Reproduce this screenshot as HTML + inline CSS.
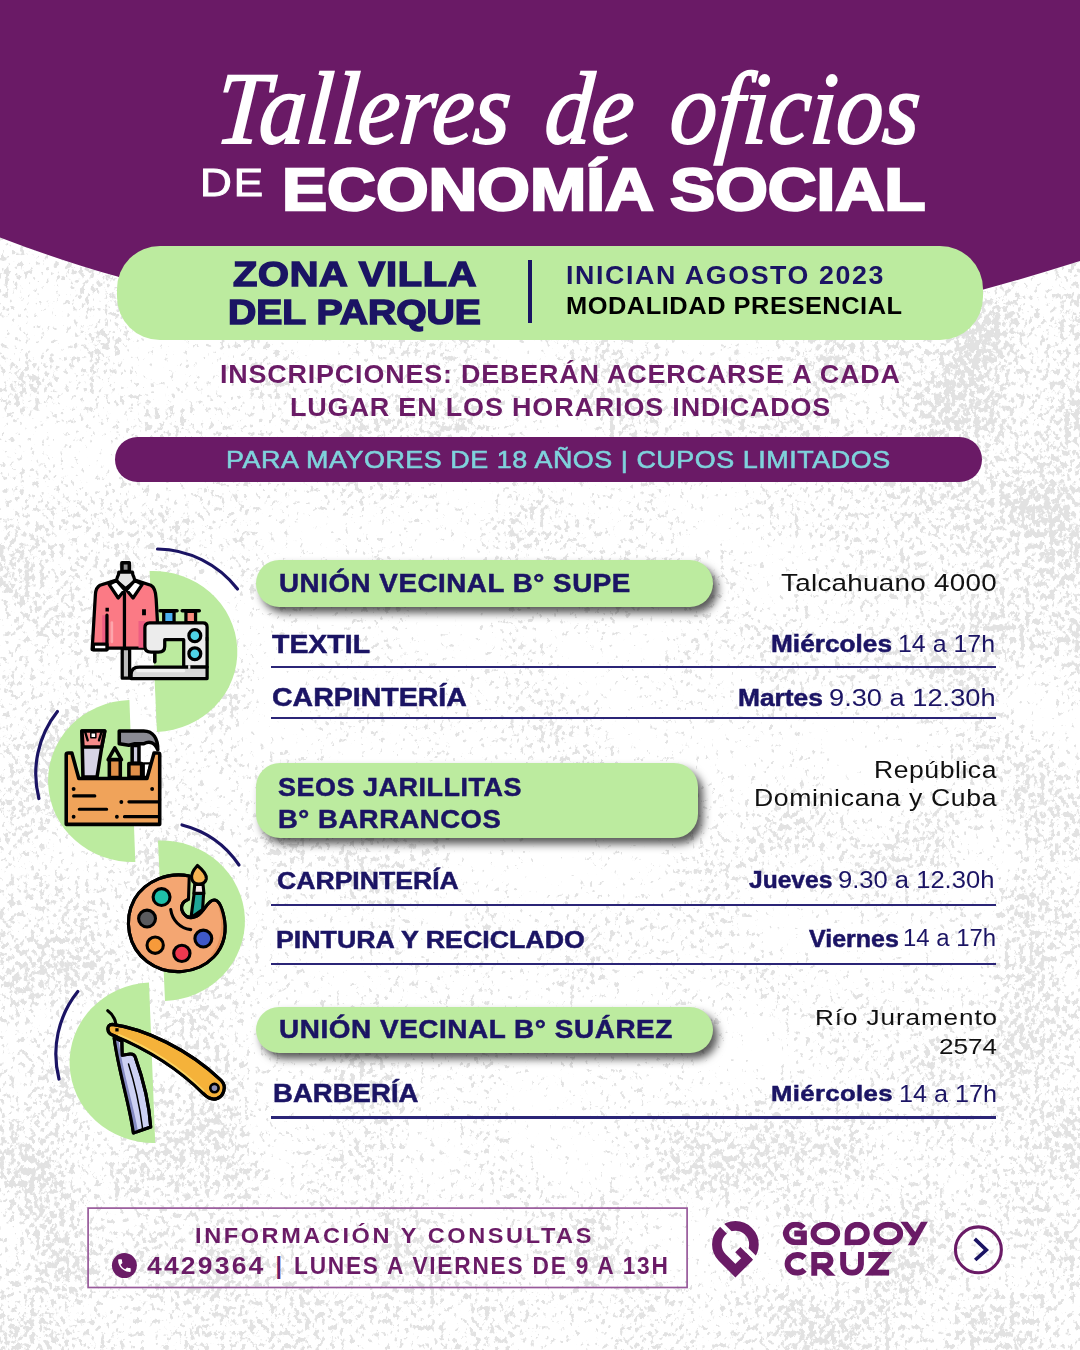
<!DOCTYPE html>
<html lang="es">
<head>
<meta charset="utf-8">
<title>Talleres de oficios de Economía Social</title>
<style>
html,body{margin:0;padding:0}
body{width:1080px;height:1350px;position:relative;overflow:hidden;background:#fbfbfb;font-family:"Liberation Sans",sans-serif}
.t{position:absolute;white-space:nowrap;line-height:1;transform-origin:0 0}
.t b{font-weight:700;-webkit-text-stroke:0.5px currentColor}
.abs{position:absolute}
.pill{position:absolute;background:#bceb9f}
.sh{box-shadow:5px 6px 9px rgba(0,0,0,.66)}
.ln{position:absolute;left:270.6px;width:725.3px;height:2.2px;background:#2b2577}
svg{position:absolute;left:0;top:0}
</style>
</head>
<body>
<!--TEXTURE_START--><svg width="1080" height="1350" viewBox="0 0 1080 1350">
<defs>
<filter id="sp" x="0" y="0" width="100%" height="100%" color-interpolation-filters="sRGB">
<feTurbulence type="fractalNoise" baseFrequency="0.2 0.16" numOctaves="3" seed="11" result="n1"/>
<feColorMatrix in="n1" type="matrix" values="1 0 0 0 0  1 0 0 0 0  1 0 0 0 0  0 0 0 0 1" result="c1"/>
<feTurbulence type="fractalNoise" baseFrequency="0.012 0.01" numOctaves="2" seed="5" result="n2"/>
<feColorMatrix in="n2" type="matrix" values="1 0 0 0 0  1 0 0 0 0  1 0 0 0 0  0 0 0 0 1" result="c2"/>
<feComposite in="c1" in2="c2" operator="arithmetic" k1="0" k2="1" k3="0.45" k4="-0.225" result="m"/>
<feComposite in="m" in2="SourceGraphic" operator="arithmetic" k1="0" k2="1" k3="0.5" k4="-0.25" result="m2"/>
<feColorMatrix in="m2" type="matrix" values="0 0 0 0 0.885  0 0 0 0 0.885  0 0 0 0 0.885  11 0 0 0 -6.4"/>
</filter>
<radialGradient id="rg" gradientUnits="userSpaceOnUse" cx="560" cy="800" r="520" gradientTransform="translate(560,800) scale(1,1.05) translate(-560,-800)"><stop offset="0" stop-color="#5c5c5c" stop-opacity="1"/><stop offset="0.55" stop-color="#5c5c5c" stop-opacity="0.9"/><stop offset="1" stop-color="#5c5c5c" stop-opacity="0"/></radialGradient>
<radialGradient id="rg2" gradientUnits="userSpaceOnUse" cx="150" cy="420" r="300"><stop offset="0" stop-color="#6c6c6c" stop-opacity="0.9"/><stop offset="1" stop-color="#6c6c6c" stop-opacity="0"/></radialGradient>
<radialGradient id="rg3" gradientUnits="userSpaceOnUse" cx="1040" cy="430" r="260"><stop offset="0" stop-color="#c4c4c4" stop-opacity="0.9"/><stop offset="1" stop-color="#c4c4c4" stop-opacity="0"/></radialGradient>
</defs>
<rect width="1080" height="1350" fill="#ffffff"/>
<g filter="url(#sp)"><rect width="1080" height="1350" fill="#8e8e8e"/><rect width="1080" height="1350" fill="url(#rg)"/><rect width="1080" height="1350" fill="url(#rg2)"/><rect width="1080" height="1350" fill="url(#rg3)"/></g>
</svg><!--TEXTURE_END-->
<svg width="1080" height="1350" viewBox="0 0 1080 1350">
<path d="M0,0H1080V261Q1028.75,277.2 982.5,289.8L900,310L200,310L117.5,276.6Q61.25,261 0,237.4Z" fill="#6a1a66"/>
</svg>
<div class="pill" style="left:117px;top:245.8px;width:866px;height:93.9px;border-radius:43px"></div>
<div class="abs" style="left:528px;top:260px;width:4px;height:63px;background:#1b1464"></div>
<div class="abs" style="left:115px;top:437px;width:867px;height:44.7px;border-radius:22.4px;background:#6a1a66"></div>

<!--ICONS_START--><svg width="1080" height="1350" viewBox="0 0 1080 1350">
<g fill="#bceb9f">
<path d="M149.6,571 A84,80.5 2.4 0 1 157,732Z"/>
<path d="M129.4,700 A84.3,81 2.2 0 0 135.3,862Z"/>
<path d="M158,840.5 A83.5,80.3 2.4 0 1 165,1001Z"/>
<path d="M149,982.5 A83.8,80.3 2.2 0 0 155.2,1143Z"/>
</g>
<g fill="none" stroke="#1b1464" stroke-width="3.2" stroke-linecap="round">
<path d="M157.5,549 A103,103 0 0 1 237.5,589"/>
<path d="M57.4,711.5 A100,100 0 0 0 38.9,798.5"/>
<path d="M182,825 A98,98 0 0 1 239,865"/>
<path d="M77.8,991.5 A100,100 0 0 0 59,1079"/>
</g>
<!-- ICON1: mannequin + sewing machine -->
<g transform="translate(80,550) scale(0.148148)" stroke="#000" stroke-width="22" stroke-linejoin="round" stroke-linecap="round">
<rect x="285" y="665" width="50" height="200" fill="#bdbdbd"/>
<rect x="283" y="86" width="50" height="60" fill="#8e8e8e" stroke-width="24"/>
<path d="M262,150 C262,185 235,190 250,225 L308,262 L366,225 C381,190 354,185 354,150Z" fill="#e4e4e4"/>
<path d="M135,238 L240,205 L308,262 L376,205 L478,238 C505,252 512,290 514,330 L522,470 L522,662 L182,662 L182,672 L82,672 L104,300 C106,268 112,250 135,238Z" fill="#fb7a85"/>
<path d="M150,440 L150,640 L182,640 L182,440Z M395,480 L395,660 L440,660 L440,480Z" fill="#ee5d82" stroke="none"/>
<path d="M215,490 L215,620" stroke="#fda5ab" stroke-width="18"/>
<path d="M246,206 L302,270 L258,324 L196,232Z M370,206 L314,270 L358,324 L420,232Z" fill="#fff"/>
<path d="M300,290 L300,660 M182,440 L182,660" fill="none"/>
<rect x="90" y="636" width="92" height="38" fill="#fff"/>
<path d="M172,402 L195,402 M432,400 L432,440" stroke-width="26" stroke-linecap="butt"/>
<!-- spools -->
<rect x="565" y="415" width="70" height="75" fill="#4bb0f2"/>
<rect x="715" y="415" width="65" height="75" fill="#f98b7d"/>
<path d="M540,410 L655,410 M690,410 L805,410" stroke-width="24"/>
<!-- machine -->
<path d="M470,492 L830,492 Q858,492 858,520 L858,790 L700,790 L700,605 L572,605 L572,650 Q572,690 530,690 L480,690 Q438,690 438,650 L438,525 Q438,492 470,492Z" fill="#ececec"/>
<path d="M505,700 L505,755" stroke-width="24"/>
<path d="M400,790 L858,790 L858,868 L345,868 L345,840 Q345,790 400,790Z" fill="#d9d9d9"/>
<path d="M390,815 L700,815" stroke="#f1f1f1" stroke-width="22"/>
<path d="M730,790 L745,790" stroke="#ececec" stroke-width="24" stroke-linecap="butt"/>
<circle cx="775" cy="578" r="40" fill="#4fd3e6"/>
<circle cx="775" cy="700" r="40" fill="#4fd3e6"/>
<path d="M848,600 L866,600" stroke-width="24" stroke-linecap="butt"/>
</g>
<!-- ICON2: toolbox -->
<g transform="translate(40,710) scale(0.148148)" stroke="#000" stroke-width="24" stroke-linejoin="round" stroke-linecap="round">
<path d="M283,142 L437,142 L416,255 L385,452 L290,452Z" fill="#d6d3e6"/>
<path d="M283,142 L437,142 L416,250 L290,250Z" fill="#f78c8c"/>
<path d="M305,150 L322,205 M415,150 L398,205" fill="none" stroke-width="16"/><rect x="343" y="153" width="34" height="34" fill="#fff" stroke="#000" stroke-width="10"/>
<path d="M460,335 L505,255 L550,335" fill="#bceb9f"/>
<rect x="468" y="335" width="74" height="120" fill="#e0904a"/>
<path d="M535,142 L700,142 C765,142 795,195 795,268 C775,222 742,205 700,228 L640,228 L600,238 L535,228Z" fill="#8a8a93"/>
<rect x="622" y="240" width="46" height="120" fill="#cfcde0"/>
<rect x="600" y="362" width="86" height="92" fill="#e0904a"/>
<path d="M700,360 L745,360 L725,452 L700,452Z" fill="#fff" stroke-width="16"/>
<path d="M255,360 L270,452 L235,452Z" fill="#d9f2c8" stroke="none"/>
<path d="M177,300 Q177,290 192,290 L215,290 L262,462 L722,462 L770,290 L795,290 Q808,290 808,300 L808,772 L177,772Z" fill="#f0a35a"/>
<g stroke-width="21" fill="none"><path d="M227,580 L370,580 M600,620 L800,620 M265,670 L450,670 M570,720 L800,720"/>
<path d="M227,532 L227,533 M757,532 L757,533 M549,620 L549,621 M227,720 L227,721 M519,720 L519,721" stroke-width="26"/></g>
</g>
<!-- ICON3: palette -->
<g transform="translate(110,840) scale(0.148148)" stroke="#000" stroke-width="21" stroke-linejoin="round" stroke-linecap="round">
<path d="M535,243 C400,215 240,270 165,400 C90,540 120,720 250,820 C390,925 590,905 700,790 C770,715 795,620 765,500 C750,440 730,400 700,405 C665,410 650,450 615,490 C585,525 530,540 500,500 C470,460 480,420 530,400 Z" fill="#f4a672"/>
<path d="M740,450 C775,560 760,700 690,780" fill="none" stroke="#e8935c" stroke-width="16"/>
<path d="M535,243 C400,215 240,270 165,400 C90,540 120,720 250,820 C390,925 590,905 700,790 C770,715 795,620 765,500 C750,440 730,400 700,405 C665,410 650,450 615,490 C585,525 530,540 500,500 C470,460 480,420 530,400" fill="none"/>
<circle cx="348" cy="385" r="57" fill="#1fbfa8"/>
<circle cx="250" cy="530" r="57" fill="#5a5a5e"/>
<circle cx="305" cy="710" r="55" fill="#f79a3a"/>
<circle cx="485" cy="765" r="55" fill="#f0384f"/>
<circle cx="630" cy="665" r="57" fill="#3f58c8"/>
<path d="M410,470 C420,540 470,595 545,605" fill="none"/>
<path d="M568,360 L632,360 L625,470 L560,515 L548,515Z" fill="#1fa697"/>
<path d="M572,300 L628,300 L634,360 L566,360Z" fill="#f3e6e3"/>
<path d="M590,172 C560,205 545,235 552,262 C558,285 575,297 600,297 C625,297 645,285 650,262 C655,235 630,205 590,172Z" fill="#f6b352"/>
</g>
<!-- ICON4: razor -->
<g transform="translate(70,990) scale(0.148148)" stroke="#000" stroke-width="21" stroke-linejoin="round" stroke-linecap="round">
<path d="M255,140 C290,165 305,195 310,232" fill="none"/>
<path d="M298,325 L350,345 L352,440 L405,432 Q435,430 442,458 C500,620 535,780 545,925 L428,965 C400,760 330,560 298,325Z" fill="#cdd1f3"/>
<path d="M314,350 C342,560 412,770 444,955" fill="none" stroke="#858bc2" stroke-width="30"/>
<path d="M298,325 L350,345 L352,440 L405,432 Q435,430 442,458 C500,620 535,780 545,925 L428,965 C400,760 330,560 298,325Z" fill="none"/>
<path d="M395,500 C440,640 470,780 490,935" fill="none" stroke-width="10"/>
<path d="M285,232 C500,260 800,400 1020,610 C1060,650 1040,720 985,735 C950,742 925,725 900,700 C720,520 520,400 290,305 C245,290 245,232 285,232Z" fill="#f5b23a"/>
<path d="M330,305 C540,395 720,505 900,680" fill="none" stroke="#fcd462" stroke-width="16"/>
<path d="M285,232 C500,260 800,400 1020,610 C1060,650 1040,720 985,735 C950,742 925,725 900,700 C720,520 520,400 290,305 C245,290 245,232 285,232Z" fill="none"/>
<circle cx="975" cy="662" r="28" fill="#8c8fb5" stroke-width="18"/>
<rect x="306" y="258" width="22" height="22" fill="#000" stroke="none"/>
</g>
</svg>
<!--ICONS_END-->

<div class="pill sh" style="left:256px;top:560.4px;width:457.1px;height:46.4px;border-radius:23.3px"></div>
<div class="pill sh" style="left:256px;top:763.2px;width:442px;height:75px;border-radius:24px"></div>
<div class="pill sh" style="left:256px;top:1006.6px;width:457.1px;height:46px;border-radius:23.3px"></div>

<div class="ln" style="top:666.3px"></div>
<div class="ln" style="top:717.3px"></div>
<div class="ln" style="top:903.5px"></div>
<div class="ln" style="top:962.6px"></div>
<div class="ln" style="top:1116.4px"></div>
<!--FOOTER_START--><svg width="1080" height="1350" viewBox="0 0 1080 1350">
<rect x="88.1" y="1208.1" width="599" height="79.4" fill="none" stroke="#985a9b" stroke-width="1.7"/>
<!-- phone -->
<circle cx="124.4" cy="1265.6" r="12.5" fill="#6a1b66"/>
<path transform="translate(116.0,1257.2) scale(0.70)" fill="#fff" d="M6.62 10.79c1.44 2.83 3.76 5.14 6.59 6.59l2.2-2.2c.27-.27.67-.36 1.02-.24 1.12.37 2.33.57 3.57.57.55 0 1 .45 1 1V20c0 .55-.45 1-1 1-9.39 0-17-7.61-17-17 0-.55.45-1 1-1h3.5c.55 0 1 .45 1 1 0 1.25.2 2.45.57 3.57.11.35.03.74-.25 1.02l-2.2 2.2z"/>
<!-- pin logo -->
<defs>
<mask id="pm" maskUnits="userSpaceOnUse" x="0" y="0" width="1080" height="1080"><rect x="0" y="0" width="1080" height="1080" fill="#fff"/><path d="M0,-45 L0,-140 L1080,940 L1080,1035Z" fill="#000"/></mask>
<clipPath id="r1"><rect x="0" y="65" width="1080" height="160"/></clipPath>
<clipPath id="r2"><rect x="0" y="270" width="1080" height="160"/></clipPath>
</defs>
<g transform="translate(700,1210) scale(0.074074)" fill="#6a1b66">
<g mask="url(#pm)"><path d="M654.8,641.8 L478,818.5 L301.2,641.8 A250,250 0 1 1 654.8,641.8Z" fill="none" stroke="#6a1b66" stroke-width="130" stroke-linejoin="miter" stroke-miterlimit="10"/></g>
<path d="M545,500 L710,665 L640,735 L475,570Z"/>
</g>
<!-- GODOY CRUZ -->
<g transform="translate(775,1212) scale(0.148148)" fill="none" stroke="#6a1b66" stroke-width="40" stroke-linejoin="miter">
<g clip-path="url(#r1)">
<path d="M192,108 A66,60 0 1 0 135,205 L195,205 L195,145 L130,145"/>
<ellipse cx="340" cy="145" rx="80" ry="60"/>
<path d="M490,240 L490,148 A65,62 0 0 1 555,85 A65,60 0 0 1 555,205 L490,205"/>
<ellipse cx="765" cy="145" rx="80" ry="60"/>
<path d="M855,45 L940,160 M1020,45 L905,250"/>
</g>
<g clip-path="url(#r2)">
<path d="M200,310 A66,60 0 1 0 200,390"/>
<path d="M265,440 L265,290 L335,290 A40,38 0 0 1 335,366 L265,366 M318,366 L395,445"/>
<path d="M460,250 L460,355 A60,55 0 0 0 580,355 L580,250"/>
<path d="M630,290 L748,290 L648,410 L770,410"/>
</g>
</g>
<!-- arrow -->
<circle cx="978.4" cy="1249.8" r="22.95" fill="none" stroke="#6a1b66" stroke-width="3.1"/>
<path d="M974.7,1238.9 L986.3,1250 L975.2,1260" fill="none" stroke="#1b1464" stroke-width="3.7" stroke-linejoin="miter"/>
</svg>
<!--FOOTER_END-->
<div class="t" style="font-family:'Liberation Serif',serif;font-weight:400;font-size:102.69px;font-style:italic;color:#fff;-webkit-text-stroke:2.0px #fff;left:220.80px;top:57.00px;transform:scaleX(0.9094) skewX(-5deg);">Talleres</div>
<div class="t" style="font-family:'Liberation Serif',serif;font-weight:400;font-size:102.69px;font-style:italic;color:#fff;-webkit-text-stroke:2.0px #fff;left:550.35px;top:57.00px;transform:scaleX(0.9116) skewX(-5deg);">de</div>
<div class="t" style="font-family:'Liberation Serif',serif;font-weight:400;font-size:102.69px;font-style:italic;color:#fff;-webkit-text-stroke:2.0px #fff;left:675.14px;top:57.00px;transform:scaleX(0.9110) skewX(-5deg);">oficios</div>
<div class="t" style="font-family:'Liberation Sans',sans-serif;font-weight:400;font-size:38.69px;letter-spacing:1.75px;color:#fff;-webkit-text-stroke:1.0px #fff;left:199.59px;top:164.05px;transform:scaleX(1.1373);">DE</div>
<div class="t" style="font-family:'Liberation Sans',sans-serif;font-weight:700;font-size:60.06px;color:#fff;-webkit-text-stroke:2.4px #fff;left:282.12px;top:159.76px;transform:scaleX(1.1259);">ECONOMÍA SOCIAL</div>
<div class="t" style="font-family:'Liberation Sans',sans-serif;font-weight:700;font-size:34.92px;letter-spacing:0.64px;color:#1b1464;-webkit-text-stroke:1.5px #1b1464;left:233.30px;top:257.49px;transform:scaleX(1.1388);">ZONA VILLA</div>
<div class="t" style="font-family:'Liberation Sans',sans-serif;font-weight:700;font-size:34.92px;color:#1b1464;-webkit-text-stroke:1.5px #1b1464;left:227.76px;top:294.69px;transform:scaleX(1.1211);">DEL PARQUE</div>
<div class="t" style="font-family:'Liberation Sans',sans-serif;font-weight:700;font-size:25.14px;letter-spacing:1.50px;color:#1b1464;left:565.57px;top:262.92px;transform:scaleX(1.0654);">INICIAN AGOSTO 2023</div>
<div class="t" style="font-family:'Liberation Sans',sans-serif;font-weight:700;font-size:24.72px;letter-spacing:0.50px;color:#000;left:565.64px;top:294.27px;transform:scaleX(1.0287);">MODALIDAD PRESENCIAL</div>
<div class="t" style="font-family:'Liberation Sans',sans-serif;font-weight:700;font-size:25.84px;letter-spacing:0.80px;color:#6a1b66;left:220.42px;top:361.63px;transform:scaleX(1.0408);">INSCRIPCIONES: DEBERÁN ACERCARSE A CADA</div>
<div class="t" style="font-family:'Liberation Sans',sans-serif;font-weight:700;font-size:25.84px;letter-spacing:0.80px;color:#6a1b66;left:289.91px;top:394.93px;transform:scaleX(1.0439);">LUGAR EN LOS HORARIOS INDICADOS</div>
<div class="t" style="font-family:'Liberation Sans',sans-serif;font-weight:400;font-size:24.3px;letter-spacing:0.50px;color:#7fd3dc;-webkit-text-stroke:0.6px #7fd3dc;left:226.09px;top:447.93px;transform:scaleX(1.1067);">PARA MAYORES DE 18 AÑOS | CUPOS LIMITADOS</div>
<div class="t" style="font-family:'Liberation Sans',sans-serif;font-weight:700;font-size:25.28px;letter-spacing:0.50px;color:#1b1464;-webkit-text-stroke:0.5px #1b1464;left:278.90px;top:570.95px;transform:scaleX(1.0975);">UNIÓN VECINAL B° SUPE</div>
<div class="t" style="font-family:'Liberation Sans',sans-serif;font-weight:400;font-size:24.44px;letter-spacing:0.25px;color:#111;left:781.16px;top:571.01px;transform:scaleX(1.1372);">Talcahuano 4000</div>
<div class="t" style="font-family:'Liberation Sans',sans-serif;font-weight:700;font-size:25.14px;color:#1b1464;-webkit-text-stroke:0.5px #1b1464;left:272.00px;top:631.57px;transform:scaleX(1.1326);">TEXTIL</div>
<div class="t" style="font-family:'Liberation Sans',sans-serif;font-weight:700;font-size:23.74px;color:#1b1464;-webkit-text-stroke:0.5px #1b1464;left:771.49px;top:632.75px;transform:scaleX(1.1056);">Miércoles</div>
<div class="t" style="font-family:'Liberation Sans',sans-serif;font-weight:400;font-size:24.44px;color:#1b1464;left:898.36px;top:632.41px;transform:scaleX(1.0196);">14 a 17h</div>
<div class="t" style="font-family:'Liberation Sans',sans-serif;font-weight:700;font-size:25.0px;color:#1b1464;-webkit-text-stroke:0.5px #1b1464;left:271.66px;top:685.29px;transform:scaleX(1.1402);">CARPINTERÍA</div>
<div class="t" style="font-family:'Liberation Sans',sans-serif;font-weight:700;font-size:23.32px;color:#1b1464;-webkit-text-stroke:0.5px #1b1464;left:737.87px;top:686.71px;transform:scaleX(1.1297);">Martes</div>
<div class="t" style="font-family:'Liberation Sans',sans-serif;font-weight:400;font-size:24.02px;color:#1b1464;left:828.87px;top:686.37px;transform:scaleX(1.1340);">9.30 a 12.30h</div>
<div class="t" style="font-family:'Liberation Sans',sans-serif;font-weight:700;font-size:25.28px;letter-spacing:0.50px;color:#1b1464;-webkit-text-stroke:0.5px #1b1464;left:278.43px;top:775.15px;transform:scaleX(1.0661);">SEOS JARILLITAS</div>
<div class="t" style="font-family:'Liberation Sans',sans-serif;font-weight:700;font-size:25.28px;letter-spacing:0.50px;color:#1b1464;-webkit-text-stroke:0.5px #1b1464;left:278.41px;top:807.25px;transform:scaleX(1.0862);">B° BARRANCOS</div>
<div class="t" style="font-family:'Liberation Sans',sans-serif;font-weight:400;font-size:23.32px;letter-spacing:0.48px;color:#111;left:874.42px;top:759.46px;transform:scaleX(1.1390);">República</div>
<div class="t" style="font-family:'Liberation Sans',sans-serif;font-weight:400;font-size:23.32px;letter-spacing:0.57px;color:#111;left:754.42px;top:786.96px;transform:scaleX(1.1410);">Dominicana y Cuba</div>
<div class="t" style="font-family:'Liberation Sans',sans-serif;font-weight:700;font-size:24.44px;color:#1b1464;-webkit-text-stroke:0.5px #1b1464;left:276.91px;top:868.76px;transform:scaleX(1.0885);">CARPINTERÍA</div>
<div class="t" style="font-family:'Liberation Sans',sans-serif;font-weight:700;font-size:23.04px;color:#1b1464;-webkit-text-stroke:0.5px #1b1464;left:748.50px;top:868.95px;transform:scaleX(1.0675);">Jueves</div>
<div class="t" style="font-family:'Liberation Sans',sans-serif;font-weight:400;font-size:23.74px;color:#1b1464;left:838.22px;top:868.60px;transform:scaleX(1.0769);">9.30 a 12.30h</div>
<div class="t" style="font-family:'Liberation Sans',sans-serif;font-weight:700;font-size:24.72px;color:#1b1464;-webkit-text-stroke:0.5px #1b1464;left:276.42px;top:927.52px;transform:scaleX(1.0827);">PINTURA Y RECICLADO</div>
<div class="t" style="font-family:'Liberation Sans',sans-serif;font-weight:700;font-size:23.04px;color:#1b1464;-webkit-text-stroke:0.5px #1b1464;left:808.50px;top:927.75px;transform:scaleX(1.0854);">Viernes</div>
<div class="t" style="font-family:'Liberation Sans',sans-serif;font-weight:400;font-size:23.74px;color:#1b1464;left:902.98px;top:927.40px;transform:scaleX(1.0079);">14 a 17h</div>
<div class="t" style="font-family:'Liberation Sans',sans-serif;font-weight:700;font-size:24.86px;letter-spacing:0.50px;color:#1b1464;-webkit-text-stroke:0.5px #1b1464;left:278.88px;top:1017.01px;transform:scaleX(1.1218);">UNIÓN VECINAL B° SUÁREZ</div>
<div class="t" style="font-family:'Liberation Sans',sans-serif;font-weight:400;font-size:22.91px;letter-spacing:0.81px;color:#111;left:815.12px;top:1006.11px;transform:scaleX(1.1382);">Río Juramento</div>
<div class="t" style="font-family:'Liberation Sans',sans-serif;font-weight:400;font-size:22.91px;color:#111;left:939.06px;top:1034.81px;transform:scaleX(1.1408);">2574</div>
<div class="t" style="font-family:'Liberation Sans',sans-serif;font-weight:700;font-size:24.86px;color:#1b1464;-webkit-text-stroke:0.5px #1b1464;left:273.09px;top:1081.21px;transform:scaleX(1.1085);">BARBERÍA</div>
<div class="t" style="font-family:'Liberation Sans',sans-serif;font-weight:700;font-size:22.63px;letter-spacing:0.31px;color:#1b1464;-webkit-text-stroke:0.5px #1b1464;left:771.46px;top:1083.09px;transform:scaleX(1.1371);">Miércoles</div>
<div class="t" style="font-family:'Liberation Sans',sans-serif;font-weight:400;font-size:23.32px;color:#1b1464;left:898.64px;top:1082.76px;transform:scaleX(1.0793);">14 a 17h</div>
<div class="t" style="font-family:'Liberation Sans',sans-serif;font-weight:700;font-size:22.7px;letter-spacing:2.50px;color:#6a1b66;left:195.43px;top:1223.53px;transform:scaleX(1.0368);">INFORMACIÓN Y CONSULTAS</div>
<div class="t" style="font-family:'Liberation Sans',sans-serif;font-weight:700;font-size:23.25px;letter-spacing:1.94px;color:#6a1b66;left:146.90px;top:1255.07px;transform:scaleX(1.1382);">4429364</div>
<div class="t" style="font-family:'Liberation Sans',sans-serif;font-weight:700;font-size:23.25px;color:#6a1b66;left:275.60px;top:1255.07px;transform:scaleX(1.0000);">|</div>
<div class="t" style="font-family:'Liberation Sans',sans-serif;font-weight:700;font-size:23.25px;letter-spacing:1.80px;color:#6a1b66;left:293.75px;top:1255.07px;transform:scaleX(0.9770);">LUNES A VIERNES DE 9 A 13H</div>
</body>
</html>
